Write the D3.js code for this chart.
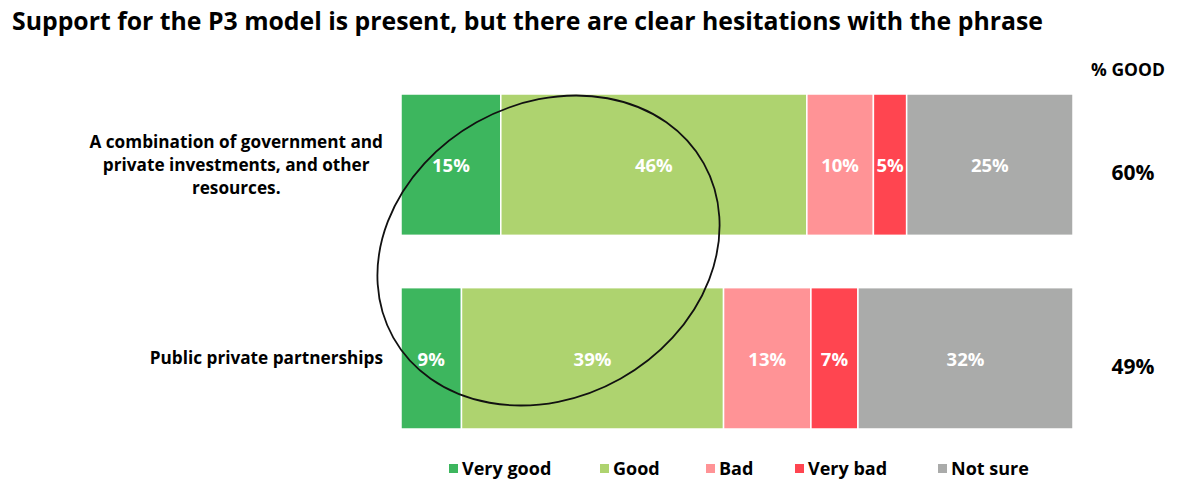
<!DOCTYPE html>
<html>
<head>
<meta charset="utf-8">
<script src="https://cdn.jsdelivr.net/npm/d3@7"></script>
<style>
  html, body { margin: 0; padding: 0; background: #fff; }
  svg { display: block; font-family: "Open Sans", Lato, sans-serif; }
</style>
</head>
<body>
<svg id="chart" width="1200" height="487"></svg>
<script>
// ---- data ----
const title = "Support for the P3 model is present, but there are clear hesitations with the phrase";
const categories = [
  ["A combination of government and", "private investments, and other", "resources."],
  ["Public private partnerships"]
];
const seriesNames = ["Very good", "Good", "Bad", "Very bad", "Not sure"];
const veryGood = [15, 9];
const good     = [46, 39];
const bad      = [10, 13];
const veryBad  = [5, 7];
const notSure  = [25, 32];
const pctGood  = ["60%", "49%"];
const goodHeader = "% GOOD";
const colors = ["#3db65e", "#aed36f", "#ff9396", "#ff4550", "#aaabaa"];

// ---- build table ----
const seriesValues = [veryGood, good, bad, veryBad, notSure];
const rows = categories.map((c, i) => {
  const r = { idx: i };
  seriesNames.forEach((s, j) => r[s] = seriesValues[j][i]);
  return r;
});

const svg = d3.select("#chart");
const plotLeft = 401, plotRight = 1073, plotTop = 94, plotBottom = 429;

const x = d3.scaleLinear().domain([0, 1]).range([plotLeft, plotRight]);
const y = d3.scaleBand().domain(rows.map(r => r.idx)).range([plotTop, plotBottom]).paddingInner(0.27).paddingOuter(0);
const color = d3.scaleOrdinal().domain(seriesNames).range(colors);

const stack = d3.stack().keys(seriesNames).offset(d3.stackOffsetExpand);
const stacked = stack(rows);

// title
svg.append("text")
  .attr("x", 12).attr("y", 30)
  .attr("font-size", 24.8).attr("font-weight", 700).attr("fill", "#000")
  .text(title);

// bars
const g = svg.append("g");
const layers = g.selectAll("g.layer").data(stacked).join("g")
  .attr("class", "layer").attr("fill", d => color(d.key));

layers.selectAll("rect").data(d => d.map(p => ({ p, key: d.key }))).join("rect")
  .attr("x", d => x(d.p[0]))
  .attr("y", d => y(d.p.data.idx))
  .attr("width", d => x(d.p[1]) - x(d.p[0]))
  .attr("height", y.bandwidth())
  .attr("stroke", "#fff").attr("stroke-width", 1.5);

// segment value labels
layers.selectAll("text").data(d => d.map(p => ({ p, key: d.key }))).join("text")
  .attr("x", d => (x(d.p[0]) + x(d.p[1])) / 2)
  .attr("y", d => y(d.p.data.idx) + y.bandwidth() / 2 + 1)
  .attr("dy", "0.35em")
  .attr("text-anchor", "middle")
  .attr("fill", "#fff").attr("font-size", 18.5).attr("font-weight", 700)
  .text(d => d.p.data[d.key] + "%");

// category labels (box right-aligned, lines centered in box)
const labelRight = 383, lineH = 23;
categories.forEach((lines, i) => {
  const gl = svg.append("g");
  const texts = gl.selectAll("text").data(lines).join("text")
    .attr("font-size", 17.2).attr("font-weight", 700).attr("fill", "#000")
    .attr("text-anchor", "middle")
    .attr("y", (d, k) => y(i) + y.bandwidth() / 2 + (k - (lines.length - 1) / 2) * lineH)
    .attr("dy", "0.35em")
    .text(d => d);
  let maxW = 0;
  texts.each(function () { maxW = Math.max(maxW, this.getComputedTextLength()); });
  texts.attr("x", labelRight - maxW / 2);
});

// % GOOD column
const goodX = 1128;
svg.append("text")
  .attr("x", goodX).attr("y", 70).attr("dy", "0.35em")
  .attr("text-anchor", "middle").attr("font-size", 17.5).attr("font-weight", 700)
  .text(goodHeader);
svg.selectAll("text.pg").data(pctGood).join("text")
  .attr("class", "pg")
  .attr("x", goodX + 5)
  .attr("y", (d, i) => y(i) + y.bandwidth() / 2 + 8)
  .attr("dy", "0.35em")
  .attr("text-anchor", "middle").attr("font-size", 21).attr("font-weight", 700)
  .text(d => d);

// annotation ellipse around the "good" share
const cx = x(0.2195), cy = (y(0) + y.bandwidth() + y(1)) / 2 - 11;
svg.append("ellipse")
  .attr("cx", 0).attr("cy", 0).attr("rx", 178).attr("ry", 147)
  .attr("transform", `translate(${cx},${cy}) rotate(-29.3)`)
  .attr("fill", "none").attr("stroke", "#111").attr("stroke-width", 1.8);

// legend
const legendX = [449, 600, 706, 795, 938];
const lg = svg.append("g").selectAll("g").data(seriesNames).join("g")
  .attr("transform", (d, i) => `translate(${legendX[i]},469)`);
lg.append("rect").attr("x", 0).attr("y", -5).attr("width", 9).attr("height", 9)
  .attr("fill", d => color(d));
lg.append("text").attr("x", 13).attr("y", 0).attr("dy", "0.35em")
  .attr("font-size", 18).attr("font-weight", 700).text(d => d);
</script>
</body>
</html>
